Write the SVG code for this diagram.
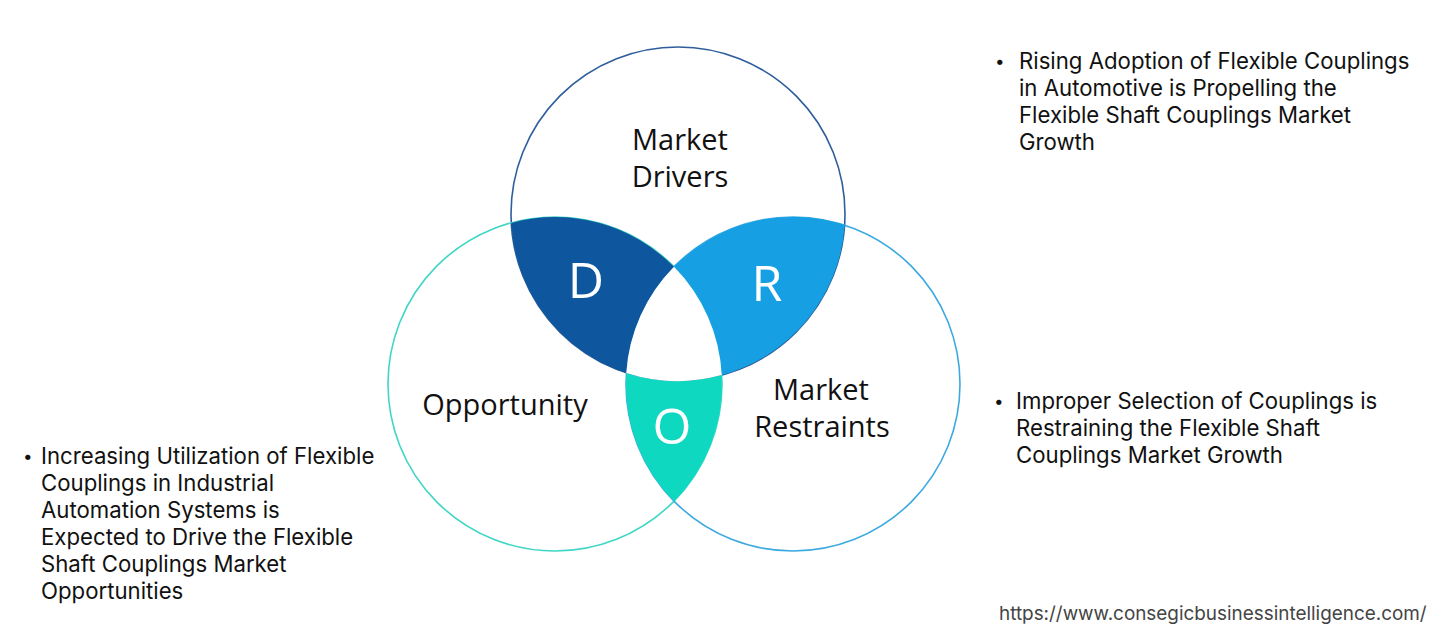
<svg xmlns="http://www.w3.org/2000/svg" width="1453" height="643" viewBox="0 0 1453 643">
<style>
.circ{fill:none;stroke-width:1.6}
.lbl{font-family:"Open Sans","Liberation Sans",sans-serif;font-size:29px;fill:#111;text-anchor:middle}
.big{font-family:"Open Sans","Liberation Sans",sans-serif;font-size:50px;fill:#fff;text-anchor:middle}
.txt{font-family:Inter,"Liberation Sans",sans-serif;font-size:22.2px;fill:#111}
.bul{font-family:Inter,"Liberation Sans",sans-serif;font-size:17px;fill:#111}
.url{font-family:Inter,"Liberation Sans",sans-serif;font-size:18.9px;fill:#444}
</style>
<rect width="1453" height="643" fill="#fff"/>
<g id="circles">
<circle id="top" class="circ" cx="678" cy="214" r="167" stroke="#2D5E9B"/>
<circle id="left" class="circ" cx="555" cy="384" r="167" stroke="#3FD6C6"/>
<circle id="right" class="circ" cx="793" cy="384" r="167" stroke="#3CA9E1"/>
</g>
<g id="regions">
<path id="D" d="M511.3,222.9 A167,167 0 0 1 674,266.8 A167,167 0 0 0 626.3,372.9 A167,167 0 0 1 511.3,222.9 Z" fill="#0E569D"/>
<path id="R" d="M674,266.8 A167,167 0 0 1 844.7,225.1 A167,167 0 0 1 721.7,375.1 A167,167 0 0 0 674,266.8 Z" fill="#16A0E3"/>
<path id="O" d="M626.3,372.9 A167,167 0 0 0 721.7,375.1 A167,167 0 0 1 674,501.2 A167,167 0 0 1 626.3,372.9 Z" fill="#0FD8C1"/>
<path id="center" d="M674,266.8 A167,167 0 0 1 721.7,375.1 A167,167 0 0 1 626.3,372.9 A167,167 0 0 1 674,266.8 Z" fill="#fff"/>
</g>
<g id="labels">
<text class="lbl" x="680" y="150">Market</text>
<text class="lbl" x="680" y="187">Drivers</text>
<text class="lbl" x="505" y="415">Opportunity</text>
<text class="lbl" x="821" y="400">Market</text>
<text class="lbl" x="822" y="437">Restraints</text>
<text class="big" x="586" y="298">D</text>
<text class="big" x="767" y="301">R</text>
<text class="big" x="672" y="444">O</text>
</g>
<g id="drivers-text">
<text class="bul" x="995" y="67">•</text>
<text class="txt" x="1019" y="69">Rising Adoption of Flexible Couplings</text>
<text class="txt" x="1019" y="96">in Automotive is Propelling the</text>
<text class="txt" x="1019" y="123">Flexible Shaft Couplings Market</text>
<text class="txt" x="1019" y="150">Growth</text>
</g>
<g id="restraints-text">
<text class="bul" x="994" y="407">•</text>
<text class="txt" x="1016" y="409">Improper Selection of Couplings is</text>
<text class="txt" x="1016" y="436">Restraining the Flexible Shaft</text>
<text class="txt" x="1016" y="463">Couplings Market Growth</text>
</g>
<g id="opportunity-text">
<text class="bul" x="23" y="462">•</text>
<text class="txt" x="41" y="464">Increasing Utilization of Flexible</text>
<text class="txt" x="41" y="491">Couplings in Industrial</text>
<text class="txt" x="41" y="518">Automation Systems is</text>
<text class="txt" x="41" y="545">Expected to Drive the Flexible</text>
<text class="txt" x="41" y="572">Shaft Couplings Market</text>
<text class="txt" x="41" y="599">Opportunities</text>
</g>
<text class="url" x="999" y="620">https://www.consegicbusinessintelligence.com/</text>
</svg>
